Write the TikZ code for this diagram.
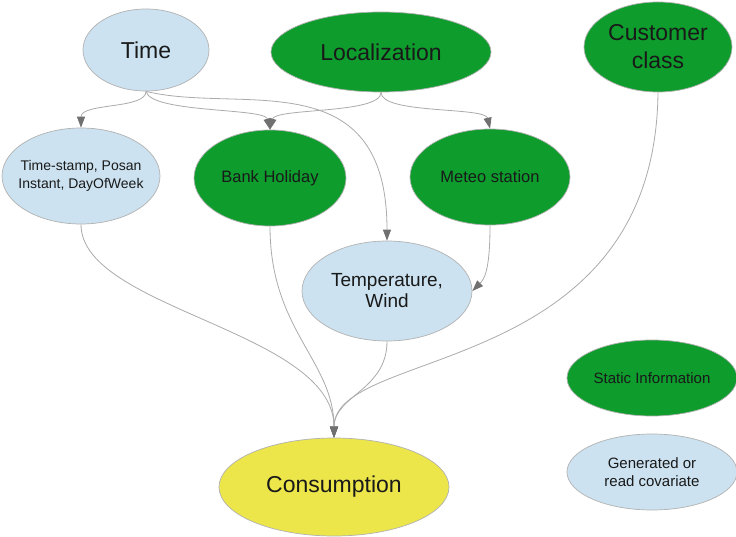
\documentclass[tikz,border=0pt]{standalone}
\usepackage{fontspec}
\setmainfont{Liberation Sans}
\usetikzlibrary{shapes.geometric,arrows.meta}
\definecolor{lblue}{HTML}{CCE2F0}
\definecolor{dgreen}{HTML}{0E9C2D}
\definecolor{cyellow}{HTML}{ECE64A}
\definecolor{edgec}{HTML}{ABABAB}
\definecolor{tipc}{HTML}{707070}
\tikzset{
  ell/.style={ellipse, draw=gray!60, line width=0.7pt, inner sep=0pt, align=center, text=black!90},
  bluen/.style={ell, fill=lblue},
  greenn/.style={ell, fill=dgreen},
  yellown/.style={ell, fill=cyellow},
  edge/.style={draw=edgec, line width=0.8pt, -{Triangle[length=11pt,width=8pt,color=tipc]}},
  fbig/.style={font=\fontsize{23}{28}\selectfont},
}
\begin{document}
\begin{tikzpicture}[x=1pt,y=-1pt]
\useasboundingbox (0,0) rectangle (736,537);
\fill[white] (0,0) rectangle (736,537);

\node[bluen, fbig, minimum width=126pt, minimum height=82pt] (time) at (146,50) {Time};
\node[greenn, fbig, minimum width=220pt, minimum height=80pt] (loc) at (381,52) {Localization};
\node[greenn, fbig, minimum width=148pt, minimum height=90pt] (cust) at (658,47) {Customer\\class};
\node[bluen, inner xsep=-8pt, minimum width=158pt, minimum height=96pt, font=\fontsize{14}{18}\selectfont] (ts) at (81,176) {Time-stamp, Posan\\Instant, DayOfWeek};
\node[greenn, minimum width=152pt, minimum height=96pt, font=\fontsize{16.5}{20}\selectfont] (bank) at (270,178) {Bank Holiday};
\node[greenn, minimum width=160pt, minimum height=96pt, font=\fontsize{16.5}{20}\selectfont] (meteo) at (490,177) {Meteo station};
\node[bluen, minimum width=170pt, minimum height=100pt, font=\fontsize{19}{21}\selectfont] (temp) at (387,291) {Temperature,\\Wind};
\node[greenn, minimum width=170pt, minimum height=76pt, font=\fontsize{15}{18}\selectfont] (stat) at (652,378) {Static Information};
\node[bluen, minimum width=170pt, minimum height=76pt, font=\fontsize{15}{18}\selectfont] (gen) at (652,472) {Generated or\\read covariate};
\node[yellown, fbig, minimum width=230pt, minimum height=98pt] (cons) at (334,487) {Consumption};

\draw[edge] (time.south) .. controls +(0,18) and +(0,-25) .. (ts.north);
\draw[edge] (time.south) .. controls +(5,22) and +(-5,-22) .. (bank.north);
\draw[edge] (loc.south) .. controls +(0,22) and +(5,-22) .. (bank.north);
\draw[edge] (loc.south) .. controls +(0,22) and +(-5,-22) .. (meteo.north);
\draw[edge] (time.south) .. controls +(94,23) and +(0,-181) .. (temp.north);
\draw[edge] (meteo.south) .. controls +(0,45) and +(12,-12) .. (temp.east);
\draw[edge] (ts.south) .. controls +(0,85) and +(0,-107) .. (cons.north);
\draw[edge] (bank.south) .. controls +(0,104) and +(0,-77) .. (cons.north);
\draw[edge] (temp.south) .. controls +(0,49) and +(0,-42) .. (cons.north);
\draw[edge] (cust.south) .. controls +(-3,288) and +(0,-92) .. (cons.north);
\end{tikzpicture}
\end{document}
